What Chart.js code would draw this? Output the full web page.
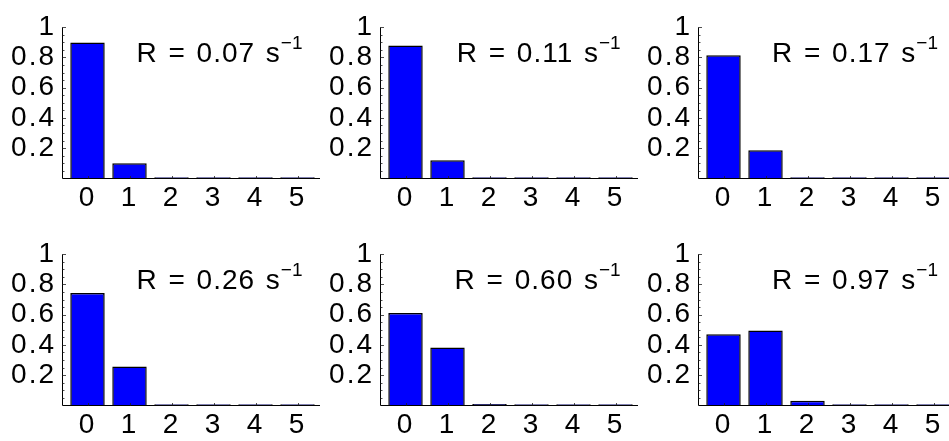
<!DOCTYPE html>
<html>
<head>
<meta charset="utf-8">
<script src="https://cdn.jsdelivr.net/npm/chart.js@4.4.1/dist/chart.umd.min.js"></script>
<style>
  html, body { margin: 0; padding: 0; background: #fff; }
  #grid { position: relative; width: 949px; height: 441px; overflow: hidden; background: #fff; }
  .panel { position: absolute; }
  .panel canvas { position: absolute; left: 0; top: 0; }
  .rate {
    position: absolute; white-space: nowrap; color: #000;
    font-family: "Liberation Sans", Arial, sans-serif; font-size: 28px; line-height: 26px;
    word-spacing: 2px; letter-spacing: 1px;
  }
  .rate sup { font-size: 19px; position: relative; top: -2px; vertical-align: super; line-height: 0; margin-left: 0; letter-spacing: 0; }
</style>
</head>
<body>
<div id="grid"></div>
<script>
// Photon-number categories shared by every panel
const categories = ['0', '1', '2', '3', '4', '5'];
// Rate printed in each panel, in reading order
const rates = ['0.07', '0.11', '0.17', '0.26', '0.60', '0.97'];
// Occupation probabilities for each rate
const probR007 = [0.90, 0.10, 0.004, 0, 0, 0];
const probR011 = [0.88, 0.12, 0.004, 0, 0, 0];
const probR017 = [0.815, 0.185, 0.005, 0, 0, 0];
const probR026 = [0.743, 0.257, 0.006, 0, 0, 0];
const probR060 = [0.612, 0.383, 0.008, 0, 0, 0];
const probR097 = [0.47, 0.495, 0.03, 0.004, 0, 0];
// y-axis tick values that carry a label
const yTickValues = [0.2, 0.4, 0.6, 0.8, 1];

const seriesList = [probR007, probR011, probR017, probR026, probR060, probR097];

const FONT = { family: '"Liberation Sans", Arial, sans-serif', size: 28 };
const COL_LEFT = [0, 318.2, 635.5];
const ROW_TOP = [0, 227];
const ROW_H = [220, 214];
const CANVAS_W = 321;
const AREA_LEFT = 66.5;
const AREA_RIGHT = 318.5;
const AREA_TOP = 20;
const AREA_BOTTOM = 178.3;

// Slightly looser tracking for the tick numerals
const wideTicks = {
  id: 'wideTicks',
  beforeDraw(chart) { chart.ctx.letterSpacing = '2px'; },
  afterDraw(chart) { chart.ctx.letterSpacing = '0px'; }
};

// Hand-drawn frame: left axis, baseline, and inward tick marks
const frameAxes = {
  id: 'frameAxes',
  afterDatasetsDraw(chart) {
    const { ctx, chartArea, scales: { x, y } } = chart;
    const ax = chartArea.left - 4;
    const y0 = Math.round(y.getPixelForValue(0)) + 0.5;
    const y1 = y.getPixelForValue(1);
    ctx.save();
    ctx.strokeStyle = '#000';
    ctx.lineWidth = 1;
    ctx.beginPath();
    ctx.moveTo(ax, y1);
    ctx.lineTo(ax, y0);
    ctx.lineTo(chartArea.right + 1.5, y0);
    ctx.stroke();

    ctx.beginPath();
    ctx.lineWidth = 0.8;
    ctx.strokeStyle = '#222';
    for (let i = 1; i <= 20; i++) {
      const py = Math.round(y.getPixelForValue(i * 0.05)) + 0.5;
      const len = (i % 4 === 0) ? 3.5 : 2;
      ctx.moveTo(ax, py);
      ctx.lineTo(ax + len, py);
    }
    categories.forEach((c, i) => {
      const px = Math.round(x.getPixelForValue(i)) + 0.5;
      ctx.moveTo(px, y0);
      ctx.lineTo(px, y0 - 2.5);
    });
    ctx.stroke();
    ctx.restore();
  }
};

const grid = document.getElementById('grid');

seriesList.forEach((values, idx) => {
  const row = Math.floor(idx / 3);
  const col = idx % 3;
  const H = ROW_H[row];

  const panel = document.createElement('div');
  panel.className = 'panel';
  panel.style.left = COL_LEFT[col] + 'px';
  panel.style.top = ROW_TOP[row] + 'px';
  panel.style.width = CANVAS_W + 'px';
  panel.style.height = H + 'px';

  const canvas = document.createElement('canvas');
  canvas.width = CANVAS_W;
  canvas.height = H;
  canvas.style.width = CANVAS_W + 'px';
  canvas.style.height = H + 'px';
  panel.appendChild(canvas);

  const label = document.createElement('div');
  label.className = 'rate';
  label.innerHTML = 'R = ' + rates[idx] + ' s<sup>\u22121</sup>';
  label.style.right = (CANVAS_W - 302.5) + 'px';
  label.style.top = '39.8px';
  panel.appendChild(label);

  grid.appendChild(panel);

  new Chart(canvas, {
    type: 'bar',
    data: {
      labels: categories,
      datasets: [{
        data: values,
        backgroundColor: '#0000ff',
        borderColor: '#000',
        borderWidth: 1.5,
        borderSkipped: 'start',
        categoryPercentage: 1,
        barPercentage: 0.82,
        minBarLength: 1
      }]
    },
    options: {
      responsive: false,
      animation: false,
      devicePixelRatio: 1,
      layout: { padding: { top: AREA_TOP, right: CANVAS_W - AREA_RIGHT, left: 0, bottom: 0 } },
      plugins: { legend: { display: false }, tooltip: { enabled: false } },
      scales: {
        x: {
          type: 'category',
          offset: true,
          grid: { display: false, drawTicks: false },
          border: { display: false },
          ticks: { font: FONT, color: '#000', padding: 3, maxRotation: 0, autoSkip: false },
          afterFit(s) { s.height = H - AREA_BOTTOM; }
        },
        y: {
          min: 0,
          max: 1,
          grid: { display: false, drawTicks: false },
          border: { display: false },
          afterBuildTicks(s) { s.ticks = yTickValues.map(v => ({ value: v })); },
          ticks: {
            font: FONT,
            color: '#000',
            padding: 10.5,
            callback: v => (v === 1 ? '1' : v.toFixed(1))
          },
          afterFit(s) { s.width = AREA_LEFT; }
        }
      }
    },
    plugins: [wideTicks, frameAxes]
  });
});
</script>
</body>
</html>
